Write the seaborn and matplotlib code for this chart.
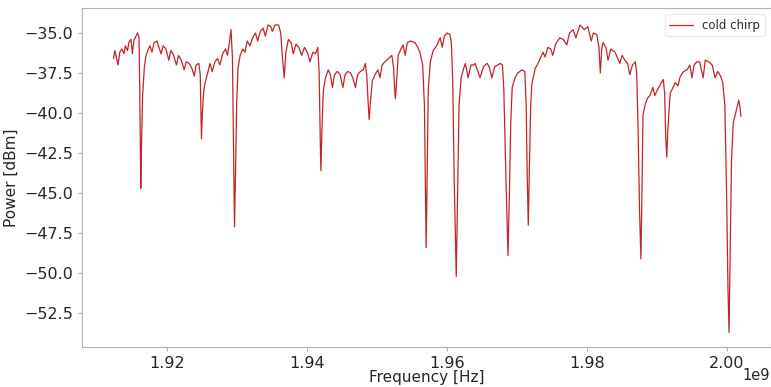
import pandas as pd
import seaborn as sns
import matplotlib
matplotlib.use("Agg")
import matplotlib.pyplot as plt

# frequency points in MHz
freq_mhz = [
    1912.3, 1912.5, 1912.7, 1912.95, 1913.2, 1913.5, 1913.8, 1914.0, 1914.3, 1914.5,
    1914.8, 1915.0, 1915.2, 1915.5, 1915.75, 1915.95, 1916.05, 1916.15, 1916.2, 1916.3,
    1916.45, 1916.7, 1916.9, 1917.2, 1917.5, 1917.8, 1918.1, 1918.5, 1918.8, 1919.1,
    1919.4, 1919.8, 1920.2, 1920.5, 1920.9, 1921.3, 1921.6, 1922.0, 1922.4, 1922.7,
    1923.1, 1923.5, 1923.85, 1924.1, 1924.5, 1924.7, 1924.8, 1924.87, 1925.0, 1925.2,
    1925.4, 1925.7, 1926.1, 1926.4, 1926.8, 1927.2, 1927.5, 1927.9, 1928.3, 1928.6,
    1928.9, 1929.1, 1929.3, 1929.45, 1929.6, 1929.75, 1929.9, 1930.1, 1930.4, 1930.8,
    1931.1, 1931.4, 1931.8, 1932.2, 1932.6, 1932.9, 1933.3, 1933.7, 1934.0, 1934.4,
    1934.8, 1935.0, 1935.4, 1935.9, 1936.2, 1936.45, 1936.7, 1936.95, 1937.3, 1937.7,
    1938.0, 1938.4, 1938.8, 1939.2, 1939.6, 1940.0, 1940.4, 1940.8, 1941.2, 1941.5,
    1941.7, 1941.85, 1941.95, 1942.1, 1942.3, 1942.6, 1943.0, 1943.3, 1943.6, 1943.9,
    1944.3, 1944.7, 1945.1, 1945.4, 1945.8, 1946.2, 1946.5, 1946.9, 1947.2, 1947.6,
    1948.0, 1948.3, 1948.5, 1948.7, 1948.85, 1949.0, 1949.3, 1949.7, 1950.1, 1950.4,
    1950.7, 1951.1, 1951.6, 1952.1, 1952.35, 1952.5, 1952.6, 1952.75, 1953.0, 1953.4,
    1953.7, 1954.0, 1954.3, 1954.8, 1955.4, 1955.8, 1956.1, 1956.5, 1956.75, 1956.9,
    1957.0, 1957.1, 1957.3, 1957.6, 1958.0, 1958.5, 1959.0, 1959.3, 1959.6, 1960.0,
    1960.4, 1960.6, 1960.8, 1961.0, 1961.3, 1961.5, 1961.7, 1962.0, 1962.3, 1962.6,
    1963.0, 1963.4, 1963.8, 1964.0, 1964.7, 1965.2, 1965.7, 1966.0, 1966.4, 1966.8,
    1967.2, 1967.6, 1967.9, 1968.1, 1968.4, 1968.7, 1968.9, 1969.1, 1969.3, 1969.7,
    1970.1, 1970.7, 1971.1, 1971.3, 1971.45, 1971.6, 1971.75, 1971.95, 1972.1, 1972.6,
    1973.0, 1973.3, 1973.7, 1974.0, 1974.4, 1974.8, 1975.1, 1975.5, 1976.1, 1976.6,
    1977.1, 1977.5, 1978.0, 1978.4, 1979.0, 1979.6, 1980.1, 1980.6, 1980.9, 1981.4,
    1981.7, 1981.9, 1982.1, 1982.3, 1982.7, 1983.0, 1983.4, 1984.0, 1984.7, 1985.0,
    1985.4, 1985.8, 1986.1, 1986.5, 1986.9, 1987.1, 1987.3, 1987.5, 1987.7, 1987.85,
    1988.0, 1988.3, 1988.6, 1989.0, 1989.4, 1989.7, 1990.0, 1990.5, 1990.9, 1991.1,
    1991.25, 1991.4, 1991.55, 1991.9, 1992.3, 1992.6, 1993.0, 1993.3, 1993.8, 1994.3,
    1994.7, 1995.0, 1995.3, 1995.7, 1996.1, 1996.6, 1996.9, 1997.4, 1997.9, 1998.3,
    1998.7, 1999.1, 1999.4, 1999.7, 1999.95, 2000.15, 2000.3, 2000.45, 2000.65, 2000.9,
    2001.2, 2001.4, 2001.7, 2001.85, 2002.0,
]

# measured power in dBm at each frequency point
power_dbm = [
    -36.6, -36.1, -36.5, -37.0, -36.2, -36.0, -36.3, -35.8, -36.1, -35.6,
    -35.4, -36.3, -35.5, -35.2, -35.0, -35.3, -38.5, -43.0, -44.7, -42.0,
    -39.0, -37.2, -36.5, -36.1, -35.8, -36.2, -35.6, -35.5, -35.9, -36.3,
    -35.8, -36.0, -36.7, -36.1, -36.4, -37.0, -36.4, -36.7, -37.3, -36.8,
    -36.9, -37.2, -37.7, -37.0, -36.9, -37.6, -40.0, -41.6, -40.0, -38.6,
    -38.1, -37.6, -36.9, -37.4, -36.8, -36.6, -37.0, -36.3, -36.0, -36.4,
    -35.5, -34.8, -36.5, -42.0, -47.1, -43.5, -39.5, -37.2, -36.4, -36.0,
    -36.2, -35.5, -35.8, -35.3, -35.0, -35.5, -34.9, -34.7, -35.2, -34.5,
    -34.6, -34.9, -34.5, -34.5, -35.0, -36.5, -37.8, -36.2, -35.4, -35.6,
    -36.3, -35.7, -35.9, -36.4, -35.9, -36.2, -36.8, -36.2, -36.3, -35.9,
    -37.5, -41.5, -43.6, -41.0, -38.6, -37.8, -37.3, -37.6, -38.4, -37.6,
    -37.4, -37.6, -38.4, -37.6, -37.4, -37.5, -37.8, -38.4, -37.6, -37.4,
    -37.3, -36.9, -37.6, -39.3, -40.4, -39.5, -38.0, -37.6, -37.3, -37.8,
    -37.0, -36.8, -36.6, -36.4, -37.2, -38.5, -39.1, -38.2, -36.4, -36.0,
    -35.75, -36.4, -35.6, -35.5, -35.6, -35.9, -36.2, -37.0, -39.5, -45.0,
    -48.4, -45.0, -38.5, -36.8, -36.1, -35.8, -35.3, -35.9, -35.2, -35.0,
    -35.1, -35.6, -38.0, -44.0, -50.2, -45.0, -39.5, -37.8, -37.3, -36.9,
    -37.8, -37.0, -37.0, -36.9, -37.8, -37.1, -36.9, -37.1, -37.8, -37.1,
    -37.0, -36.9, -37.0, -38.5, -44.0, -48.9, -45.0, -40.5, -38.4, -37.8,
    -37.5, -37.3, -37.4, -39.5, -44.0, -47.0, -43.5, -39.5, -38.2, -37.2,
    -36.9, -36.6, -36.2, -36.5, -35.9, -36.0, -36.4, -35.7, -35.3, -35.4,
    -35.75, -35.0, -34.8, -35.3, -34.5, -34.8, -34.6, -35.5, -35.0, -35.1,
    -35.9, -37.5, -36.0, -35.6, -35.9, -36.7, -36.0, -36.2, -36.9, -36.4,
    -36.7, -36.9, -37.6, -37.0, -36.8, -37.5, -41.0, -46.0, -49.1, -45.0,
    -40.1, -39.5, -39.1, -38.9, -38.4, -38.9, -38.6, -38.2, -37.9, -38.8,
    -41.5, -42.75, -41.0, -38.75, -38.4, -38.1, -38.3, -37.75, -37.4, -37.3,
    -37.0, -37.8, -37.0, -36.8, -36.8, -37.8, -36.7, -36.8, -37.0, -37.8,
    -37.4, -37.7, -38.1, -39.5, -45.0, -51.0, -53.7, -49.0, -43.0, -40.6,
    -40.1, -39.7, -39.2, -39.6, -40.2,
]

series_label = "cold chirp"

df = pd.DataFrame({
    "Frequency [Hz]": [f * 1e6 for f in freq_mhz],
    "Power [dBm]": power_dbm,
})

sns.set_style("white", {"axes.edgecolor": ".7", "xtick.bottom": True, "ytick.left": True,
                        "xtick.color": ".15", "ytick.color": ".15"})
plt.rcParams["font.family"] = ["DejaVu Sans"]

fig = plt.figure(figsize=(7.71, 3.87), dpi=100)
ax = fig.add_axes([0.1064, 0.1034, 0.8936, 0.8756])

sns.lineplot(data=df, x="Frequency [Hz]", y="Power [dBm]", ax=ax, color="#c42329",
             linewidth=0.9, sort=False, estimator=None, label=series_label)

ax.set_xlim(1907.8e6, 2006.3e6)
ax.set_ylim(-54.6, -33.45)
ax.set_xticks([1.92e9, 1.94e9, 1.96e9, 1.98e9, 2.00e9])
ax.set_yticks([-52.5, -50.0, -47.5, -45.0, -42.5, -40.0, -37.5, -35.0])
ax.tick_params(axis="both", labelsize=11.5, length=3, color=".7")
ax.set_xlabel("Frequency [Hz]", fontsize=11, labelpad=-1)
ax.set_ylabel("Power [dBm]", fontsize=11)

# scale factor drawn as plain text so it sits where the reference has it
ax.xaxis.get_offset_text().set_visible(False)
fig.text(0.999, 0.031, "1e9", ha="right", va="center", fontsize=10.5, color=".15")

ax.legend(loc="upper right", fontsize=8.5, frameon=True, edgecolor=".9")

fig.savefig("out.png", dpi=100)
